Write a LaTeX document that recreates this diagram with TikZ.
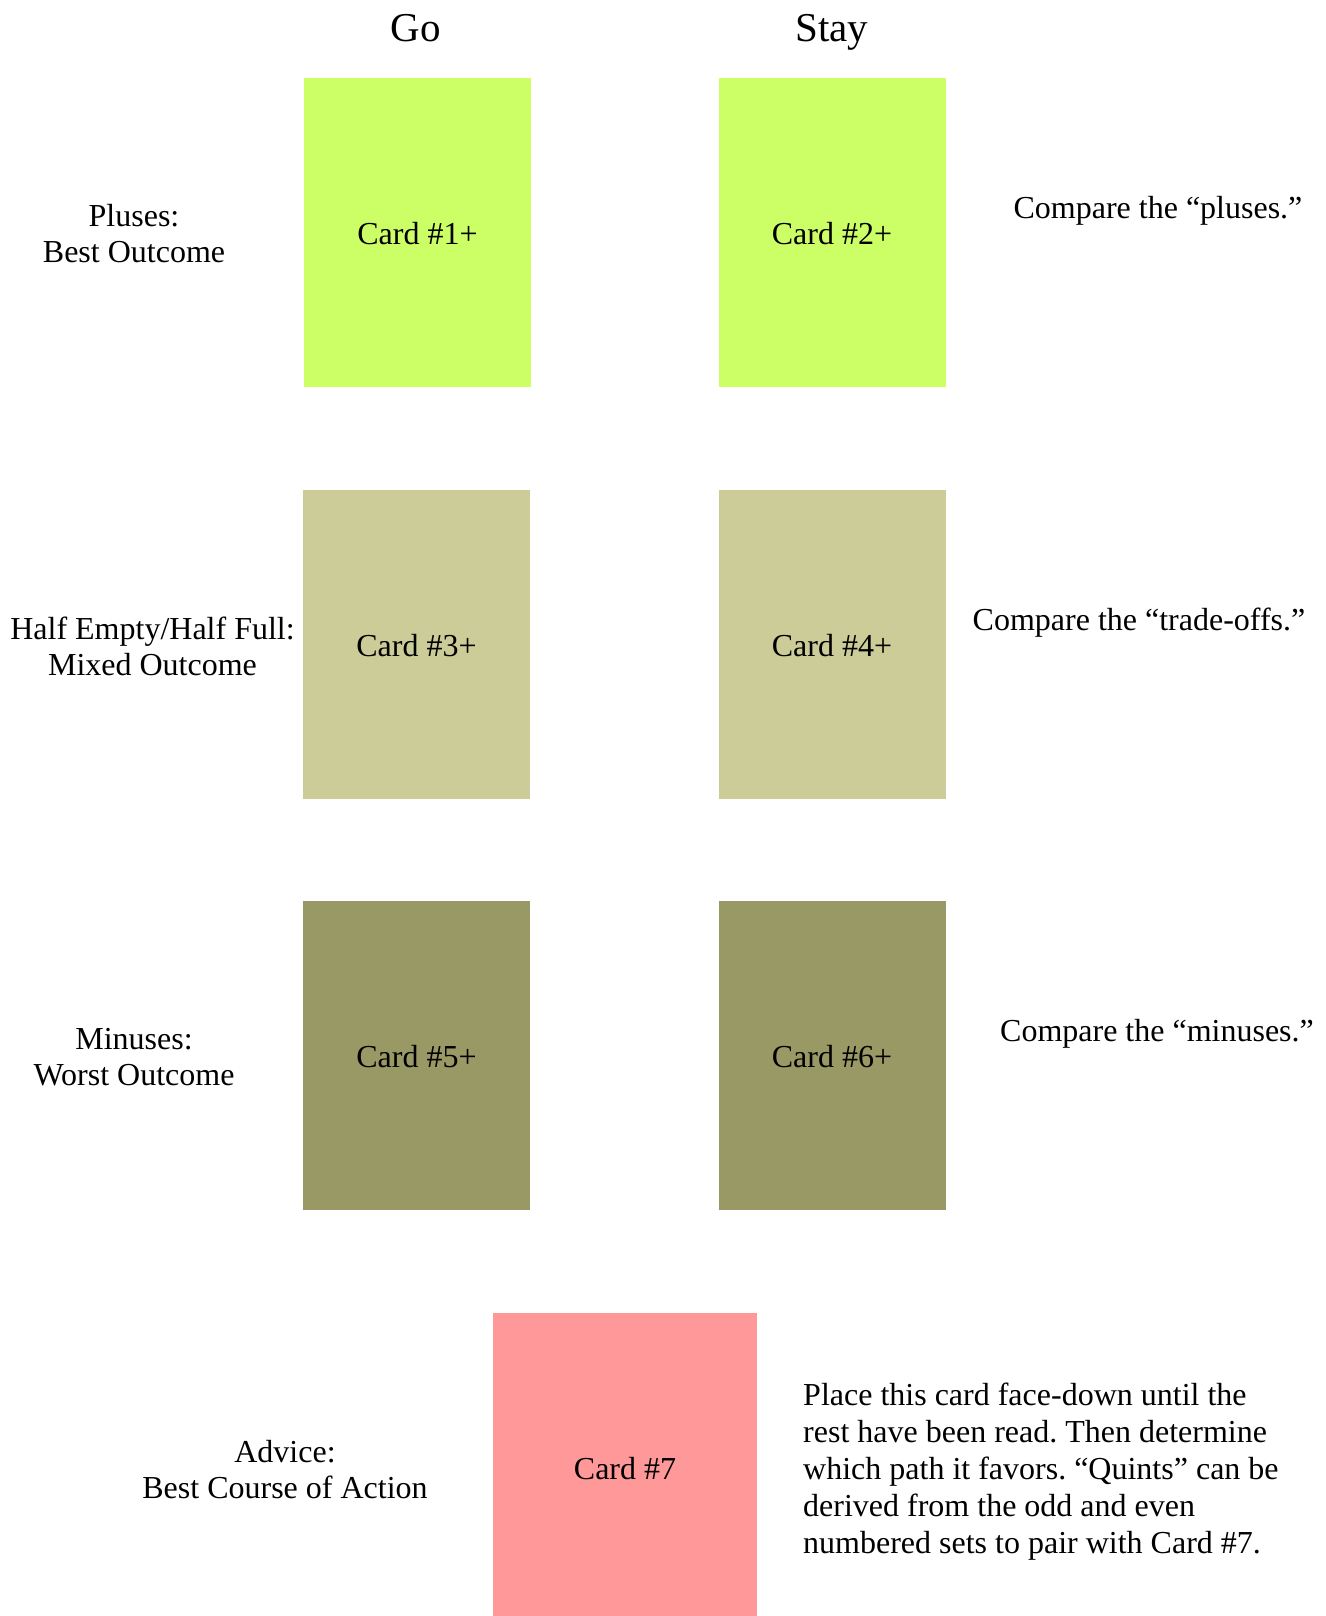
\documentclass[tikz,border=0pt]{standalone}
\usepackage{fontspec}
\setmainfont{Liberation Serif}
\frenchspacing
\definecolor{cgreen}{HTML}{CCFF66}
\definecolor{ctan}{HTML}{CCCC99}
\definecolor{colive}{HTML}{999966}
\definecolor{cpink}{HTML}{FF9999}
\tikzset{
  card/.style={inner sep=0pt, minimum width=227pt, minimum height=309pt, font=\fontsize{32}{36}\selectfont},
  cardtxt/.style={inner sep=0pt, font=\fontsize{32}{36}\selectfont},
  lbl/.style={inner sep=0pt, align=center, font=\fontsize{32}{36}\selectfont},
  hdr/.style={inner sep=0pt, anchor=base, font=\fontsize{41}{45}\selectfont},
}
\begin{document}
\begin{tikzpicture}[x=1pt,y=-1pt]
\useasboundingbox[fill=white] (0,0) rectangle (1325,1616);
\node[hdr] (go) at (416,42) {Go};
\node[hdr] (stay) at (832,42) {Stay};
\node[card, fill=cgreen] (c1) at (417.5,232.5) {};
\node[card, fill=cgreen] (c2) at (832,232.5) {};
\node[card, fill=ctan] (c3) at (416.5,644) {};
\node[card, fill=ctan] (c4) at (832,644) {};
\node[card, fill=colive] (c5) at (416.5,1055) {};
\node[card, fill=colive] (c6) at (832,1055) {};
\node[card, fill=cpink, minimum width=264pt, minimum height=303pt] (c7) at (625,1464.5) {};
\node[cardtxt] (t1) at (417.5,234) {Card \#1+};
\node[cardtxt] (t2) at (832,234) {Card \#2+};
\node[cardtxt] (t3) at (416.5,645.5) {Card \#3+};
\node[cardtxt] (t4) at (832,645.5) {Card \#4+};
\node[cardtxt] (t5) at (416.5,1056.5) {Card \#5+};
\node[cardtxt] (t6) at (832,1056.5) {Card \#6+};
\node[cardtxt] (t7) at (625,1469) {Card \#7};
\node[lbl] (l1) at (134,234) {Pluses:\\Best Outcome};
\node[lbl] (l2) at (152.5,646) {Half Empty/Half Full:\\Mixed Outcome};
\node[lbl] (l3) at (134,1057) {Minuses:\\Worst Outcome};
\node[lbl] (l4) at (285,1470) {Advice:\\Best Course of Action};
\node[lbl] (r1) at (1158,211) {Compare the “pluses.”};
\node[lbl] (r2) at (1139,623) {Compare the “trade-offs.”};
\node[lbl] (r3) at (1157,1034) {Compare the “minuses.”};
\node[lbl, align=left, anchor=west, font=\fontsize{32}{37}\selectfont] (r4) at (803,1472) {Place this card face-down until the\\rest have been read. Then determine\\which path it favors. “Quints” can be\\derived from the odd and even\\numbered sets to pair with Card \#7.};
\end{tikzpicture}
\end{document}
